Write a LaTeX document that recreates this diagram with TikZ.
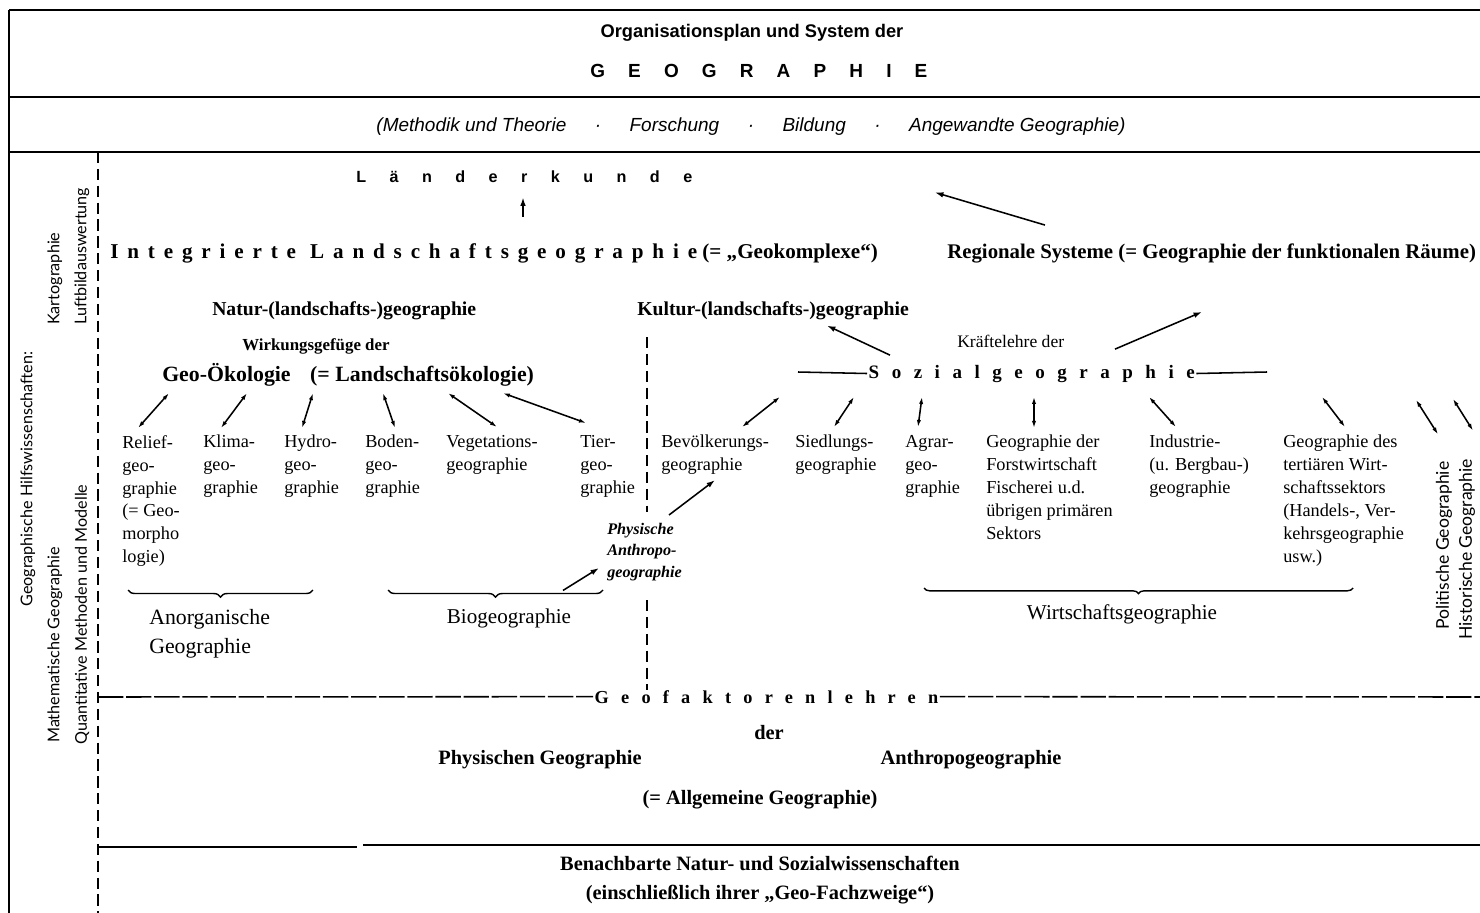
\documentclass[tikz,border=0pt]{standalone}
\usepackage{fontspec}
\setmainfont{Liberation Serif}
\setsansfont{Liberation Sans}
\newfontfamily\hilfsfont{Lato}
\usetikzlibrary{arrows.meta, calc, decorations.pathreplacing}

\tikzset{
  lbl/.style={inner sep=0pt, align=left, anchor=north west, font=\fontsize{13}{16.3}\selectfont},
  dbl/.style={{Latex[length=5pt,width=3pt]}-{Latex[length=5pt,width=3pt]}, line width=1.1pt},
  onearrow/.style={-{Latex[length=6pt,width=4pt]}, line width=1.1pt},
  boxline/.style={line width=1.5pt},
  dashline/.style={line width=1.1pt, dash pattern=on 8pt off 4pt},
  longdash/.style={line width=1.1pt, dash pattern=on 18pt off 2pt},
  underbrace/.style={decorate, decoration={brace, mirror, amplitude=5pt}, line width=1pt},
  vert/.style={rotate=90, anchor=west, inner sep=0pt},
}

\begin{document}
\begin{tikzpicture}[x=0.025cm, y=-0.025cm]
        \useasboundingbox (0,0) rectangle (1480,913);

        % Rahmen
        \draw[boxline] (9,10) -- (1480,10);
        \draw[boxline] (9,10) -- (9,913);
        \draw[boxline] (9,97) -- (1480,97);
        \draw[boxline] (9,152) -- (1480,152);
        \draw[dashline] (98,152) -- (98,913);
        \draw[dashline] (647,337) -- (647,512);
        \draw[dashline] (647,600) -- (647,690);
        \draw[boxline] (98,847) -- (357,847);
        \draw[boxline] (363,845) -- (1480,845);

        % Kopf
        \node[font=\fontsize{13}{15}\sffamily\bfseries] (titel) at (752,33) {Organisationsplan und System der};
        \node[font={\fontsize{13.5}{15}\sffamily\bfseries\addfontfeatures{LetterSpace=122}}, anchor=base west, inner sep=0pt] (geographie) at (590,78) {GEOGRAPHIE};
        \node[font=\fontsize{13.5}{15}\sffamily\itshape] (methodik) at (751,127) {(Methodik und Theorie\hspace{1.5em}·\hspace{1.5em}Forschung\hspace{1.5em}·\hspace{1.5em}Bildung\hspace{1.5em}·\hspace{1.5em}Angewandte Geographie)};

        % Hilfswissenschaften
        \node[vert, font=\fontsize{11.5}{14}\hilfsfont] (hilfs) at (28,607) {Geographische Hilfswissenschaften:};
        \node[vert, font=\fontsize{11.5}{14}\hilfsfont] (karto) at (55,325) {Kartographie};
        \node[vert, font=\fontsize{11.5}{14}\hilfsfont] (luftbild) at (82,325) {Luftbildauswertung};
        \node[vert, font=\fontsize{11.5}{14}\hilfsfont] (mathgeo) at (55,743) {Mathematische Geographie};
        \node[vert, font=\fontsize{11.5}{14}\hilfsfont] (quant) at (82,745) {Quantitative Methoden und Modelle};

        % Obere Ebene
        \node[font={\fontsize{11.5}{13}\sffamily\bfseries\addfontfeatures{LetterSpace=145}}, anchor=base west, inner sep=0pt] (laender) at (356,182) {Länderkunde};
        \node[font=\fontsize{15}{17}\bfseries, anchor=base west, inner sep=0pt] (integr) at (110,258) {{\addfontfeatures{LetterSpace=42}Integrierte Landschaftsgeographie} (= „Geokomplexe“)};
        \node[font=\fontsize{14.8}{18}\bfseries, anchor=base west, inner sep=0pt] (regional) at (947,258) {Regionale Systeme (= Geographie der funktionalen Räume)};
        \node[font=\fontsize{14}{17}\bfseries, anchor=base west, inner sep=0pt] (natur) at (212,315) {Natur-(landschafts-)geographie};
        \node[font=\fontsize{14}{17}\bfseries, anchor=base west, inner sep=0pt] (kultur) at (637,315) {Kultur-(landschafts-)geographie};
        \node[font=\fontsize{12}{14}\bfseries, anchor=base west, inner sep=0pt] (wirkung) at (242,350) {Wirkungsgefüge der};
        \node[font=\fontsize{15.5}{18}\bfseries, anchor=base west, inner sep=0pt] (geooeko) at (162,381) {Geo-Ökologie\hspace{0.9em}(= Landschaftsökologie)};
        \node[font=\fontsize{12.5}{15}\selectfont, anchor=base west, inner sep=0pt] (kraefte) at (957,347) {Kräftelehre der};
        \node[font={\fontsize{13.5}{15}\bfseries\addfontfeatures{LetterSpace=66}}, anchor=base west, inner sep=1pt] (sozial) at (867,378) {Sozialgeographie};

        % Zweige
        \node[lbl] (relief) at (122,435) {Relief-\\geo-\\graphie\\(= Geo-\\morpho\\logie)};
        \node[lbl] (klima) at (203,435) {Klima-\\geo-\\graphie};
        \node[lbl] (hydro) at (284,435) {Hydro-\\geo-\\graphie};
        \node[lbl] (boden) at (365,435) {Boden-\\geo-\\graphie};
        \node[lbl] (veget) at (446,435) {Vegetations-\\geographie};
        \node[lbl] (tier) at (580,435) {Tier-\\geo-\\graphie};
        \node[lbl] (bevoelk) at (661,435) {Bevölkerungs-\\geographie};
        \node[lbl] (siedl) at (795,435) {Siedlungs-\\geographie};
        \node[lbl] (agrar) at (905,435) {Agrar-\\geo-\\graphie};
        \node[lbl] (forst) at (986,435) {Geographie der\\Forstwirtschaft\\Fischerei u.d.\\übrigen primären\\Sektors};
        \node[lbl] (industrie) at (1149,435) {Industrie-\\(u. Bergbau-)\\geographie};
        \node[lbl] (tertiaer) at (1283,435) {Geographie des\\tertiären Wirt-\\schaftssektors\\(Handels-, Ver-\\kehrsgeographie\\usw.)};
        \node[vert, font=\fontsize{12.5}{15}\hilfsfont] (politisch) at (1444,630) {Politische Geographie};
        \node[vert, font=\fontsize{12.5}{15}\hilfsfont] (historisch) at (1467,640) {Historische Geographie};
        \node[font=\fontsize{11.5}{15.2}\bfseries\itshape, align=left, anchor=north west, inner sep=0pt] (physanthro) at (607,523) {Physische\\Anthropo-\\geographie};

        % Zusammenfassungen
        \draw[underbrace] (128,590) -- (313,590);
        \draw[underbrace] (388,590) -- (603,590);
        \draw[underbrace, decoration={amplitude=4pt}] (924,588) -- (1353,588);
        \node[font=\fontsize{15.5}{20.6}\selectfont, align=left, anchor=north west, inner sep=0pt] (anorg) at (149,609) {Anorganische\\Geographie};
        \node[font=\fontsize{15}{18}\selectfont] (bio) at (509,618) {Biogeographie};
        \node[font=\fontsize{15}{18}\selectfont] (wirtschaft) at (1122,614) {Wirtschaftsgeographie};

        % Untere Ebene
        \node[font={\fontsize{13}{15}\bfseries\addfontfeatures{LetterSpace=67}}, anchor=base west, inner sep=1pt] (geofak) at (593,703) {Geofaktorenlehren};
        \node[font=\fontsize{14.5}{17}\bfseries] (der) at (769,733) {der};
        \node[font=\fontsize{14.5}{17}\bfseries] (physgeo) at (540,760) {Physischen Geographie};
        \node[font=\fontsize{14.5}{17}\bfseries] (anthro) at (971,760) {Anthropogeographie};
        \node[font=\fontsize{14.5}{17}\bfseries] (allg) at (760,800) {(= Allgemeine Geographie)};
        \node[font=\fontsize{14.5}{17}\bfseries] (benach) at (760,863) {Benachbarte Natur- und Sozialwissenschaften};
        \node[font=\fontsize{14.5}{17}\bfseries] (einschl) at (760,895) {(einschließlich ihrer „Geo-Fachzweige“)};

        % Linien an Texten
        \draw[line width=1.1pt] (798,372) -- (sozial.west);
        \draw[line width=1.1pt] (sozial.east) -- (1267,372);
        \draw[longdash] (98,697) -- (geofak.west);
        \draw[longdash] (geofak.east) -- (1480,697);

        % Pfeile
        \draw[onearrow] ($(integr.north west)+(413,-26)$) -- ($(laender.south west)+(167,15)$);
        \draw[onearrow] ($(regional.north west)+(98,-18)$) -- ($(laender.south west)+(579,10)$);
        \draw[onearrow] ($(sozial.north west)+(23,-8)$) -- ($(kultur.south west)+(190,6)$);
        \draw[onearrow] ($(sozial.north west)+(248,-14)$) -- ($(regional.south west)+(255,49)$);
        \draw[onearrow] ($(bio.north)+(54,-13)$) -- ($(physanthro.north west)+(-8,45)$);
        \draw[onearrow] ($(physanthro.north west)+(62,-8)$) -- ($(bevoelk.south west)+(54,5)$);

        \draw[dbl] ($(geooeko.south west)+(7,7)$) -- ($(relief.north west)+(16,-7)$);
        \draw[dbl] ($(geooeko.south west)+(85,7)$) -- ($(klima.north west)+(18,-7)$);
        \draw[dbl] ($(geooeko.south west)+(151,7)$) -- ($(hydro.north west)+(18,-7)$);
        \draw[dbl] ($(geooeko.south west)+(221,7)$) -- ($(boden.north west)+(30,-7)$);
        \draw[dbl] ($(geooeko.south west)+(286,7)$) -- ($(veget.north west)+(51,-8)$);
        \draw[dbl] ($(geooeko.south west)+(341,7)$) -- ($(tier.north west)+(6,-12)$);

        \draw[dbl] ($(sozial.south west)+(-87,13)$) -- ($(bevoelk.north west)+(81,-8)$);
        \draw[dbl] ($(sozial.south west)+(-13,13)$) -- ($(siedl.north west)+(39,-8)$);
        \draw[dbl] ($(sozial.south west)+(55,13)$) -- ($(agrar.north west)+(13,-8)$);
        \draw[dbl] ($(sozial.south west)+(167,13)$) -- ($(forst.north west)+(48,-7)$);
        \draw[dbl] ($(sozial.south west)+(282,13)$) -- ($(industrie.north west)+(27,-8)$);
        \draw[dbl] ($(sozial.south west)+(455,13)$) -- ($(tertiaer.north west)+(62,-8)$);
        \draw[dbl] ($(sozial.south west)+(549,16)$) -- ($(politisch.east)+(-6,-27)$);
        \draw[dbl] ($(sozial.south west)+(586,15)$) -- ($(historisch.east)+(6,-28)$);
    \end{tikzpicture}
\end{document}
